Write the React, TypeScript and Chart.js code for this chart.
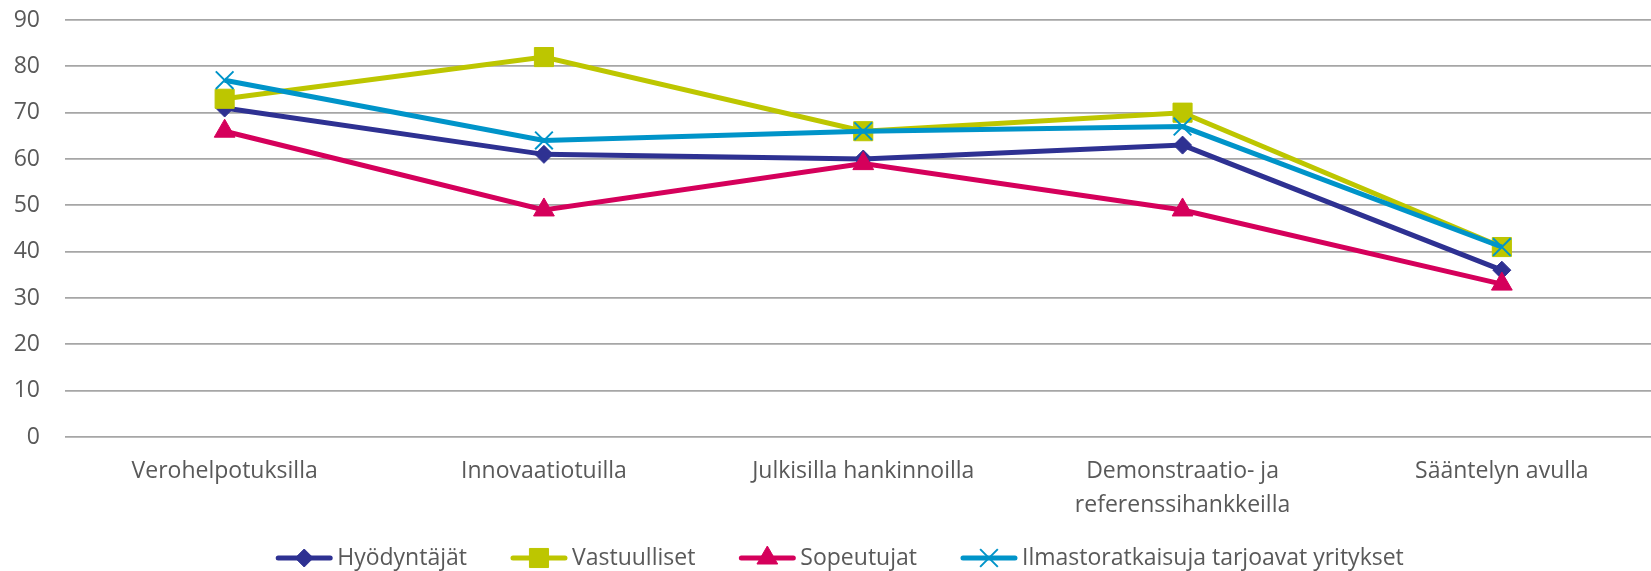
import React, { useEffect, useRef } from "react";
import { Chart, registerables } from "chart.js";
import { drawPoint } from "chart.js/helpers";

Chart.register(...registerables);

const categories: (string | string[])[] = [
  "Verohelpotuksilla",
  "Innovaatiotuilla",
  "Julkisilla hankinnoilla",
  ["Demonstraatio- ja", "referenssihankkeilla"],
  "Sääntelyn avulla",
];

const seriesNames = [
  "Hyödyntäjät",
  "Vastuulliset",
  "Sopeutujat",
  "Ilmastoratkaisuja tarjoavat yritykset",
];

const hyodyntajat = [71, 61, 60, 63, 36];
const vastuulliset = [73, 82, 66, 70, 41];
const sopeutujat = [66, 49, 59, 49, 33];
const ilmastoratkaisut = [77, 64, 66, 67, 41];

const yMin = 0;
const yMax = 90;
const yStep = 10;

const COLORS = ["#2E3192", "#BDC600", "#D5005B", "#0094C9"];
const FONT = '"Open Sans", sans-serif';
const TEXT_COLOR = "#595959";
const CANVAS_W = 1676;
const CANVAS_H = 571;
const LEGEND_CENTER_X = 840;
const LEGEND_Y = 558;
const FONT_SIZE = 23;

const legendPlugin = {
  id: "lineMarkerLegend",
  afterDraw(chart: any) {
    const ctx = chart.ctx as CanvasRenderingContext2D;
    ctx.save();
    ctx.font = `${FONT_SIZE}px ${FONT}`;
    const iconW = 56;
    const gap = 5;
    const itemGap = 44;
    const items = chart.data.datasets.map((ds: any) => ({
      ds,
      w: ctx.measureText(ds.label).width,
    }));
    const total =
      items.reduce((s: number, it: any) => s + iconW + gap + it.w, 0) +
      itemGap * (items.length - 1);
    let x = LEGEND_CENTER_X - total / 2;
    const y = LEGEND_Y;
    items.forEach(({ ds, w }: any) => {
      ctx.strokeStyle = ds.borderColor;
      ctx.lineWidth = ds.borderWidth;
      ctx.lineCap = "round";
      ctx.beginPath();
      ctx.moveTo(x + 2, y);
      ctx.lineTo(x + iconW - 2, y);
      ctx.stroke();
      ctx.lineCap = "butt";
      ctx.fillStyle = ds.pointBackgroundColor;
      ctx.strokeStyle = ds.pointBorderColor;
      ctx.lineWidth = ds.pointBorderWidth;
      drawPoint(
        ctx,
        {
          pointStyle: ds.pointStyle,
          rotation: 0,
          radius: ds.pointRadius,
          borderWidth: ds.pointBorderWidth,
        } as any,
        x + iconW / 2,
        y
      );
      ctx.fillStyle = TEXT_COLOR;
      ctx.textBaseline = "middle";
      ctx.textAlign = "left";
      ctx.fillText(ds.label, x + iconW + gap, y);
      x += iconW + gap + w + itemGap;
    });
    ctx.restore();
  },
};

function makeDataset(i: number, data: number[], style: string, radius: number, bw: number, order: number) {
  return {
    label: seriesNames[i],
    data,
    borderColor: COLORS[i],
    backgroundColor: COLORS[i],
    borderWidth: 5,
    pointStyle: style,
    pointRadius: radius,
    pointBackgroundColor: COLORS[i],
    pointBorderColor: COLORS[i],
    pointBorderWidth: bw,
    tension: 0,
    fill: false,
    order,
  };
}

export default function App() {
  const canvasRef = useRef<HTMLCanvasElement | null>(null);

  useEffect(() => {
    const canvas = canvasRef.current;
    if (!canvas) return;
    const chart = new Chart(canvas, {
      type: "line",
      data: {
        labels: categories,
        datasets: [
          makeDataset(0, hyodyntajat, "rectRot", 9, 1, 4),
          makeDataset(1, vastuulliset, "rect", 13.5, 1, 3),
          makeDataset(2, sopeutujat, "triangle", 12, 1, 2),
          makeDataset(3, ilmastoratkaisut, "crossRot", 12.5, 2, 1),
        ] as any,
      },
      options: {
        responsive: false,
        animation: false,
        devicePixelRatio: 1,
        events: [],
        layout: { padding: { top: 20, bottom: 31, left: 0, right: 0 } },
        plugins: {
          legend: { display: false },
          tooltip: { enabled: false },
        },
        scales: {
          x: {
            offset: true,
            grid: { display: false, drawTicks: false },
            border: { display: false },
            afterFit: (scale: any) => {
              scale.paddingLeft = 0;
              scale.paddingRight = 0;
            },
            ticks: {
              color: TEXT_COLOR,
              font: { family: FONT, size: FONT_SIZE, lineHeight: 1.5 },
              padding: 17,
              maxRotation: 0,
              autoSkip: false,
            },
          },
          y: {
            min: yMin,
            max: yMax,
            grid: { color: "#A6A6A6", lineWidth: 1.75, drawTicks: false },
            border: { display: false },
            afterFit: (scale: any) => {
              scale.width = 65;
              scale.paddingTop = 0;
              scale.paddingBottom = 0;
            },
            ticks: {
              stepSize: yStep,
              color: TEXT_COLOR,
              font: { family: FONT, size: FONT_SIZE },
              padding: 25,
            },
          },
        },
      },
      plugins: [legendPlugin],
    });
    return () => chart.destroy();
  }, []);

  return (
    <div
      style={{
        position: "fixed",
        left: 0,
        top: 0,
        width: CANVAS_W,
        height: CANVAS_H,
        background: "#ffffff",
      }}
    >
      <canvas ref={canvasRef} width={CANVAS_W} height={CANVAS_H} style={{ display: "block" }} />
    </div>
  );
}
